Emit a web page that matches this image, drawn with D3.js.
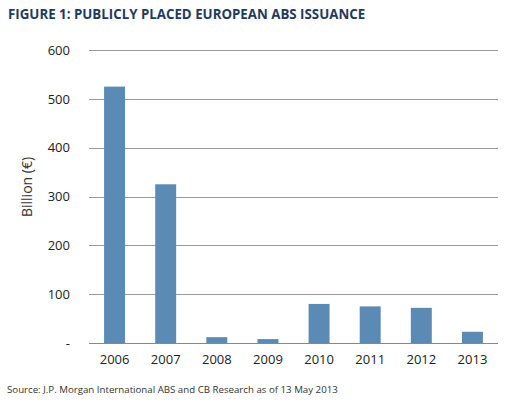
<!DOCTYPE html>
<html>
<head>
<meta charset="utf-8">
<script src="https://cdn.jsdelivr.net/npm/d3@7"></script>
<style>
  body{margin:0;background:#fff;}
  svg text{font-family:"Open Sans","Noto Sans",sans-serif;}
</style>
</head>
<body>
<div id="chart"></div>
<script>
// chart data
let years=[`2006`,`2007`,`2008`,`2009`,`2010`,`2011`,`2012`,`2013`];
let issuance=[525,325,12,8,80,75,72,23];
let yTicks=[0,100,200,300,400,500,600];

let titleText=`FIGURE 1: PUBLICLY PLACED EUROPEAN ABS ISSUANCE`;
let sourceText=`Source: J.P. Morgan International ABS and CB Research as of 13 May 2013`;
let yTitle=`Billion (€)`;

let format={width:506,height:403,margin:{left:89,right:8,top:50,bottom:60}};
let innerW=format.width-format.margin.left-format.margin.right;
let innerH=format.height-format.margin.top-format.margin.bottom;

let svg=d3.select(`#chart`).append(`svg`)
    .attr(`width`,format.width)
    .attr(`height`,format.height);

svg.append(`text`)
    .attr(`x`,8)
    .attr(`y`,19)
    .attr(`font-size`,13.3)
    .attr(`font-weight`,`bold`)
    .attr(`fill`,`#1f3a5f`)
    .text(titleText);

let graph=svg.append(`g`)
    .attr(`transform`,`translate(${format.margin.left},${format.margin.top})`);

let x=d3.scaleBand().domain(years).range([0,innerW]).paddingInner(0.59).paddingOuter(0.295);
let y=d3.scaleLinear().domain([0,600]).range([innerH,0]);

//gridlines
graph.append(`g`)
    .attr(`class`,`grid`)
    .selectAll(`line`)
    .data(yTicks.filter(d=>d>0))
    .enter()
    .append(`line`)
    .attr(`x1`,0)
    .attr(`x2`,innerW)
    .attr(`y1`,d=>Math.round(y(d))+0.5)
    .attr(`y2`,d=>Math.round(y(d))+0.5)
    .attr(`stroke`,`#999`)
    .attr(`stroke-width`,1);

//bars
graph.append(`g`)
    .attr(`class`,`bars`)
    .selectAll(`rect`)
    .data(issuance)
    .enter()
    .append(`rect`)
    .attr(`x`,(d,i)=>x(years[i]))
    .attr(`width`,x.bandwidth())
    .attr(`y`,d=>y(d))
    .attr(`height`,d=>innerH-y(d))
    .attr(`fill`,`#5b8ab5`);

//x axis
let xAxis=graph.append(`g`)
    .attr(`class`,`x axis`)
    .attr(`transform`,`translate(0,${innerH})`)
    .call(d3.axisBottom(x).tickSize(0).tickPadding(12));
xAxis.select(`.domain`).attr(`stroke`,`#888`).attr(`d`,`M0,0.5H${innerW}`);
xAxis.selectAll(`text`).attr(`font-size`,13).attr(`fill`,`#222`).attr(`font-family`,`"Open Sans",sans-serif`);

//y axis
let yAxis=graph.append(`g`)
    .attr(`class`,`y axis`)
    .attr(`transform`,`translate(-16,0)`)
    .call(d3.axisLeft(y).tickValues(yTicks).tickSize(0).tickFormat(d=>d==0?`-`:d));
yAxis.select(`.domain`).remove();
yAxis.selectAll(`text`).attr(`font-size`,13).attr(`fill`,`#222`).attr(`font-family`,`"Open Sans",sans-serif`);

//y title
svg.append(`text`)
    .attr(`transform`,`translate(32,187) rotate(-90)`)
    .attr(`text-anchor`,`middle`)
    .attr(`font-size`,14)
    .attr(`fill`,`#333`)
    .text(yTitle);

//source
svg.append(`text`)
    .attr(`x`,7)
    .attr(`y`,393)
    .attr(`font-size`,9.7)
    .attr(`fill`,`#333`)
    .text(sourceText);
</script>
</body>
</html>
